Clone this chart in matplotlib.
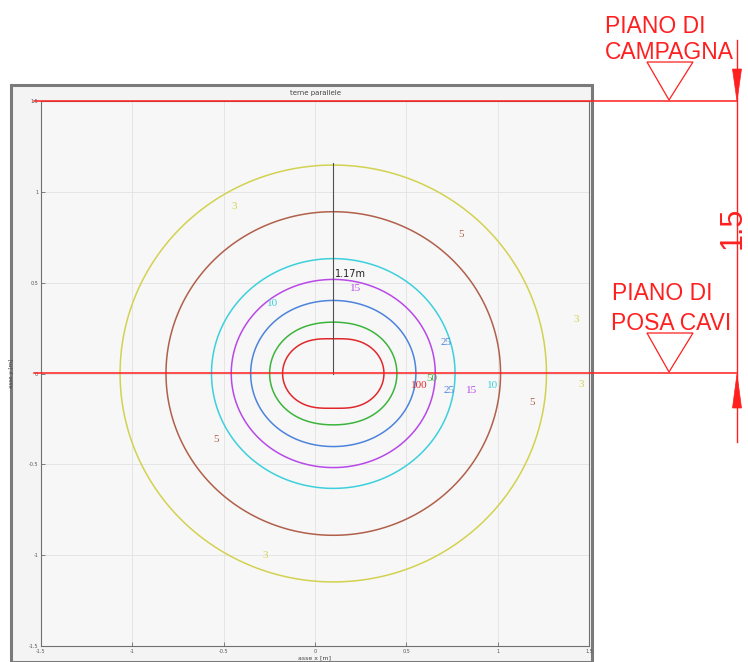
import numpy as np
import matplotlib
matplotlib.use('Agg')
import matplotlib.pyplot as plt
from matplotlib.lines import Line2D
from matplotlib.patches import Rectangle, Polygon

#cable data (two flat triads side by side), positions in m, current in A
cable_x = [-0.04, 0.0, 0.04, 0.16, 0.20, 0.24]
cable_y = [0.0, 0.0, 0.0, 0.0, 0.0, 0.0]
cable_phase = [0, -120, 120, -100, 140, 20]   #degrees
cable_current = 220

#contour levels [uT] and their colours
levels = [3, 5, 10, 15, 25, 50, 100]
level_colors = ['#d2d250', '#b0604a', '#3cd0dc', '#b848e8', '#4c84dc', '#3cb43c', '#e0282c']

#contour label positions (level, x, y)
label_lev = [3, 3, 3, 3, 5, 5, 5, 10, 10, 15, 15, 25, 25, 50, 100]
label_x = [-0.44, -0.27, 1.43, 1.46, 0.80, -0.54, 1.19, -0.235, 0.97, 0.855, 0.22, 0.72, 0.735, 0.64, 0.57]
label_y = [0.92, -1.0, 0.30, -0.06, 0.765, -0.365, -0.16, 0.385, -0.065, -0.095, 0.47, 0.17, -0.095, -0.03, -0.065]

#distance marker
dist_x = 0.1
dist_top = 1.16
dist_text = '1.17m'

ticks = [-1.5, -1, -0.5, 0, 0.5, 1, 1.5]
tick_labels = ['-1.5', '-1', '-0.5', '0', '0.5', '1', '1.5']

W, H = 748.0, 662.0
red = '#ff1f1f'

def fx(px):
    return px / W

def fy(py):
    return (H - py) / H

fig = plt.figure(figsize=(7.48, 6.62), dpi=100)
fig.patch.set_facecolor('white')

#matlab window frame
frame = Rectangle((fx(11), 0), fx(592) - fx(11), fy(85), transform=fig.transFigure,
                  facecolor='#f4f4f4', edgecolor='#7a7a7a', lw=2.2, zorder=0)
fig.add_artist(frame)

ax = fig.add_axes([fx(41), fy(646), fx(589) - fx(41), fy(101) - fy(646)])
ax.set_facecolor('#f7f7f7')

#magnetic field on a grid
gx = np.linspace(-1.5, 1.5, 601)
gy = np.linspace(-1.5, 1.5, 601)
X, Y = np.meshgrid(gx, gy)
Bx = np.zeros(X.shape, dtype=complex)
By = np.zeros(X.shape, dtype=complex)
for cx, cy, ph in zip(cable_x, cable_y, cable_phase):
    I = cable_current * np.exp(1j * np.deg2rad(ph))
    dx = X - cx
    dy = Y - cy
    r2 = dx**2 + dy**2
    r2[r2 < 1e-6] = 1e-6
    Bx += -0.2 * I * dy / r2
    By += 0.2 * I * dx / r2
B = np.sqrt(np.abs(Bx)**2 + np.abs(By)**2)

ax.contour(X, Y, B, levels=levels, colors=level_colors, linewidths=1.1, zorder=2)

for lev, lx, ly in zip(label_lev, label_x, label_y):
    c = level_colors[levels.index(lev)]
    ax.text(lx, ly, str(lev), color=c, fontsize=8, family='Liberation Serif',
            ha='center', va='center', zorder=3)

#distance line
ax.plot([dist_x, dist_x], [0, dist_top], color='#505050', lw=0.8, zorder=3)
ax.text(dist_x + 0.01, 0.545, dist_text, fontsize=7, color='#222222', ha='left', va='center', zorder=4)

ax.set_xlim(-1.5, 1.5)
ax.set_ylim(-1.5, 1.5)
ax.set_xticks(ticks)
ax.set_yticks(ticks)
ax.set_xticklabels(tick_labels)
ax.set_yticklabels(tick_labels)
ax.tick_params(direction='in', length=3, width=0.5, labelsize=3.5, pad=2, colors='#555555')
ax.grid(True, color='#e2e2e2', lw=0.6)
ax.set_axisbelow(True)
for sp in ax.spines.values():
    sp.set_color('#707070')
    sp.set_linewidth(0.8)

ax.set_title('terne parallele', fontsize=5, color='#444444', pad=4)
ax.set_xlabel('asse x [m]', fontsize=4.5, color='#444444', labelpad=1)
ax.set_ylabel('asse y [m]', fontsize=4, color='#444444')
ax.yaxis.set_label_coords(-0.049, 0.5)

#cad overlay: reference levels
for py in [101, 373]:
    fig.add_artist(Line2D([fx(34), fx(737)], [fy(py), fy(py)], color=red, lw=1.1, zorder=10))

#dimension line and arrows
fig.add_artist(Line2D([fx(737), fx(737)], [fy(40), fy(442)], color=red, lw=1.0, zorder=10))
fig.add_artist(Polygon([[fx(737), fy(101)], [fx(732.5), fy(69)], [fx(741.5), fy(69)]],
                       closed=True, facecolor=red, edgecolor=red, lw=0.5, transform=fig.transFigure, zorder=10))
fig.add_artist(Polygon([[fx(737), fy(374)], [fx(732.5), fy(408)], [fx(741.5), fy(408)]],
                       closed=True, facecolor=red, edgecolor=red, lw=0.5, transform=fig.transFigure, zorder=10))

#level symbols
for top, apex in [(62, 100), (333, 372)]:
    fig.add_artist(Polygon([[fx(647), fy(top)], [fx(693), fy(top)], [fx(669), fy(apex)]],
                           closed=True, fill=False, edgecolor=red, lw=0.9, transform=fig.transFigure, zorder=10))

tkw = dict(color=red, fontsize=16.5, family='Liberation Sans', va='baseline', ha='left')
fig.text(fx(605), fy(33), 'PIANO DI', **tkw)
fig.text(fx(605), fy(59), 'CAMPAGNA', **tkw)
fig.text(fx(612), fy(300), 'PIANO DI', **tkw)
fig.text(fx(611), fy(330), 'POSA CAVI', **tkw)
fig.text(fx(733), fy(228), '1.5', color=red, fontsize=22, family='Liberation Sans',
         rotation=90, ha='center', va='center')

fig.savefig('out.png', dpi=100)
